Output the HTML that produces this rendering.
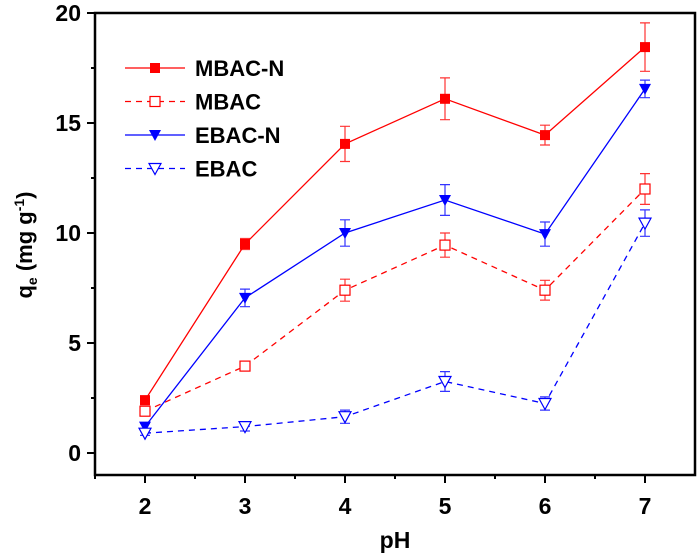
<!DOCTYPE html>
<html><head><meta charset="utf-8"><style>
body{margin:0;background:#fff}
text{font-family:"Liberation Sans",Arial,sans-serif;font-weight:bold}
</style></head><body>
<svg id="c" width="700" height="553" xmlns="http://www.w3.org/2000/svg"></svg>
<script>
const categories=[2,3,4,5,6,7];
const mbacN=[2.4,9.5,14.05,16.1,14.45,18.45];
const mbacNErr=[0.2,0.25,0.8,0.95,0.45,1.1];
const mbac=[1.9,3.95,7.4,9.45,7.4,12.0];
const mbacErr=[0.15,0.2,0.5,0.55,0.45,0.7];
const ebacN=[1.2,7.05,10.0,11.5,9.95,16.55];
const ebacNErr=[0.15,0.4,0.6,0.7,0.55,0.4];
const ebac=[0.9,1.2,1.65,3.25,2.25,10.45];
const ebacErr=[0.1,0.2,0.3,0.45,0.3,0.6];
const xTicks=[2,3,4,5,6,7];
const yTicks=[0,5,10,15,20];
const seriesNames=["MBAC-N","MBAC","EBAC-N","EBAC"];

const NS="http://www.w3.org/2000/svg",svg=document.getElementById('c');
const L=95,R=695,T=13,B=475,X0=1.5,X1=7.5,Y0=-1,Y1=20;
const sx=v=>L+(v-X0)/(X1-X0)*(R-L), sy=v=>B-(v-Y0)/(Y1-Y0)*(B-T);
function mk(t,a,p){const e=document.createElementNS(NS,t);for(const k in a)e.setAttribute(k,a[k]);(p||svg).appendChild(e);return e;}
const ax=mk('rect',{x:L,y:T,width:R-L,height:B-T,fill:'none',stroke:'#000','stroke-width':2.5});


xTicks.forEach(v=>{const x=sx(v);
 const t=mk('line',{x1:x,x2:x,y1:B,y2:B+8,stroke:'#000','stroke-width':2});
 
 
 if(v<7){const m=mk('line',{x1:x+50,x2:x+50,y1:B,y2:B+4,stroke:'#000','stroke-width':2});
 
 }
 const lb=mk('text',{x:x,y:B+39,'text-anchor':'middle','font-size':23});lb.textContent=v;
 
 
});
mk('line',{x1:sx(1.5),x2:sx(1.5),y1:B,y2:B+4,stroke:'#000','stroke-width':2});
yTicks.forEach(v=>{const y=sy(v);
 const t=mk('line',{x1:L-8,x2:L,y1:y,y2:y,stroke:'#000','stroke-width':2});
 
 
 if(v<20){const m=mk('line',{x1:L-4,x2:L,y1:sy(v+2.5),y2:sy(v+2.5),stroke:'#000','stroke-width':2});
 
 }
 const lb=mk('text',{x:L-14,y:y+8,'text-anchor':'end','font-size':23});lb.textContent=v;
 
 
});
const xt=mk('text',{x:395,y:548,'text-anchor':'middle','font-size':23});xt.textContent='pH';


const yt=mk('text',{x:0,y:0,'text-anchor':'middle','font-size':22,transform:'translate(32,245) rotate(-90)'});
yt.innerHTML='q<tspan font-size="14" dy="5">e</tspan><tspan dy="-5"> (mg g</tspan><tspan font-size="14" dy="-8">-1</tspan><tspan dy="8">)</tspan>';



function marker(g,type,x,y,col){
 if(type==='sqF')mk('rect',{x:x-5,y:y-5,width:10,height:10,fill:col},g);
 if(type==='sqO')mk('rect',{x:x-5,y:y-5,width:10,height:10,fill:'#fff',stroke:col,'stroke-width':1.2},g);
 if(type==='triF')mk('polygon',{points:`${x-6},${y-5} ${x+6},${y-5} ${x},${y+6}`,fill:col},g);
 if(type==='triO')mk('polygon',{points:`${x-6},${y-5} ${x+6},${y-5} ${x},${y+6}`,fill:'#fff',stroke:col,'stroke-width':1.2},g);
}
const defs=[[mbacN,mbacNErr,'#f00','sqF',''],[mbac,mbacErr,'#f00','sqO','6,5'],[ebacN,ebacNErr,'#00f','triF',''],[ebac,ebacErr,'#00f','triO','6,5']];
defs.forEach((d,i)=>{
 const [vals,err,col,type,dash]=d;
 const g=mk('g',{});
 
 
 const pts=categories.map((c,j)=>sx(c)+','+sy(vals[j])).join(' ');
 mk('polyline',{points:pts,fill:'none',stroke:col,'stroke-width':1.3,'stroke-dasharray':dash},g);
 categories.forEach((c,j)=>{const x=sx(c);
  const eb=mk('path',{d:`M${x},${sy(vals[j]+err[j])}V${sy(vals[j]-err[j])}M${x-5},${sy(vals[j]+err[j])}h10M${x-5},${sy(vals[j]-err[j])}h10`,stroke:col,'stroke-width':1.2,fill:'none',opacity:0.8},g);
  
  
  marker(g,type,x,sy(vals[j]),col);
 });
 const ly=68+i*33.5;
 const lg=mk('g',{});
 
 
 mk('line',{x1:125,x2:185,y1:ly,y2:ly,stroke:col,'stroke-width':1.3,'stroke-dasharray':dash},lg);
 marker(lg,type,155,ly,col);
 const lt=mk('text',{x:195,y:ly+8,'font-size':22},lg);lt.textContent=seriesNames[i];
});
</script>
</body></html>
